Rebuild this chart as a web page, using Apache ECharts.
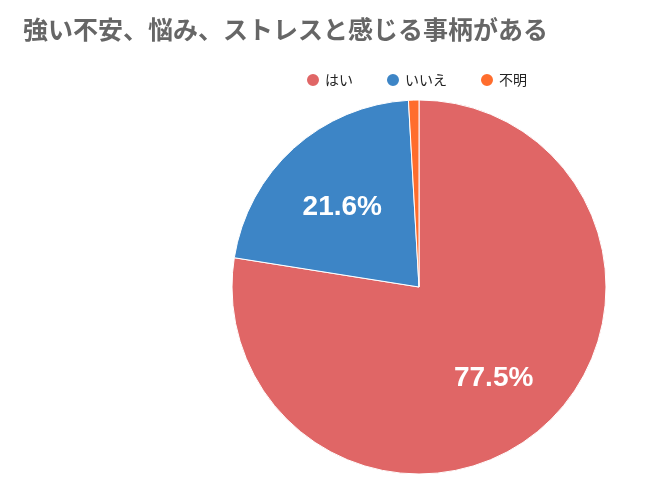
<!DOCTYPE html>
<html><head><meta charset="utf-8">
<script src="https://cdn.jsdelivr.net/npm/echarts@6/dist/echarts.min.js"></script>
<style>html,body{margin:0;padding:0;background:#fff}#c{width:647px;height:485px}</style>
</head><body><div id="c"></div>
<script>
const categories = ['はい', 'いいえ', '不明'];
const values = [77.5, 21.6, 0.9];
const colors = ['#e06666', '#3d85c6', '#ff6d2d'];
const offsets = [[12, 18], [-12, -8], [0, 0]];
const chart = echarts.init(document.getElementById('c'));
chart.setOption({
  animation: false,
  title: { text: '強い不安、悩み、ストレスと感じる事柄がある', left: 18, top: 12,
    textStyle: { color: '#666', fontSize: 25, fontWeight: 'bold', fontFamily: 'Noto Sans CJK JP' } },
  legend: { top: 67, left: 300, itemWidth: 14, itemHeight: 14, icon: 'circle', itemGap: 32,
    textStyle: { fontSize: 14, color: '#222', fontFamily: 'Noto Sans CJK JP' }, data: categories },
  series: [{
    type: 'pie', center: [419, 287], radius: 187, startAngle: 90, clockwise: true,
    data: categories.map((n, i) => ({ name: n, value: values[i], itemStyle: { color: colors[i] },
      label: { show: i < 2, offset: offsets[i] } })),
    itemStyle: { borderColor: '#fff', borderWidth: 1 },
    label: { position: 'inside', formatter: p => p.value.toFixed(1) + '%', color: '#fff',
      fontSize: 28, fontWeight: 'bold', fontFamily: 'Liberation Sans' },
    labelLine: { show: false }
  }]
});
</script></body></html>
